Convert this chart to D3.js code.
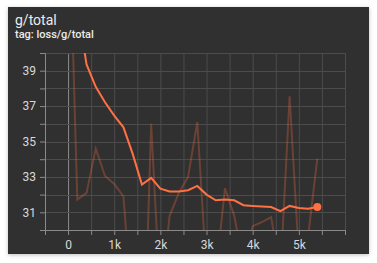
<!DOCTYPE html>
<meta charset="utf-8">
<style>

body {
  margin: 0;
  background: #fff;
  font-family: Roboto, sans-serif;
}

.card {
  position: absolute;
  left: 8px;
  top: 7px;
  width: 361px;
  height: 247px;
  background: #303030;
  box-shadow: 0 1px 4px rgba(0,0,0,0.25);
}

.grid line {
  stroke: #4c4c4c;
  stroke-width: 1;
}

.axis path, .axis line {
  stroke: #8a8a8a;
}

.axis text {
  fill: #d8d8d8;
  font: 12px Roboto, sans-serif;
}

.raw {
  fill: none;
  stroke: #ff7043;
  stroke-opacity: 0.28;
  stroke-width: 2;
}

.smooth {
  fill: none;
  stroke: #ff7043;
  stroke-width: 2;
}

</style>
<body>
<div class="card"></div>
<script src="https://d3js.org/d3.v7.min.js"></script>
<script>

var steps = [0, 200, 400, 600, 800, 1000, 1200, 1400, 1600, 1800, 2000, 2200, 2400, 2600,
             2800, 3000, 3200, 3400, 3600, 3800, 4000, 4200, 4400, 4600, 4800, 5000, 5200, 5400];

var rawValues = [50, 31.72, 32.1, 34.6, 33.05, 32.6, 31.9, 25, 19, 36.0, 26, 30.8, 32.1, 33.0,
                 36.1, 27.5, 27.5, 32.36, 30.8, 28.1, 30.22, 30.45, 30.73, 27.5, 37.56, 28.5, 29.6, 34.04];

var smoothValues = [50, 42.7, 39.35, 38.09, 37.22, 36.46, 35.8, 34.3, 32.57, 32.94, 32.34, 32.18, 32.17, 32.25,
                    32.49, 32.0, 31.68, 31.72, 31.68, 31.4, 31.36, 31.33, 31.3, 31.06, 31.36, 31.24, 31.2, 31.3];

var xTicks = [0, 1000, 2000, 3000, 4000, 5000];
var xTickLabels = ["0", "1k", "2k", "3k", "4k", "5k"];
var yTicks = [31, 33, 35, 37, 39];

var data = steps.map(function(s, i) {
  return {step: s, raw: rawValues[i], smooth: smoothValues[i]};
});

var margin = {top: 53, right: 32, bottom: 33, left: 45},
    width = 377 - margin.left - margin.right,
    height = 263 - margin.top - margin.bottom;

var root = d3.select("body").append("svg")
    .attr("width", 377)
    .attr("height", 263)
    .style("position", "absolute")
    .style("left", 0)
    .style("top", 0);

root.append("text")
    .attr("x", 15)
    .attr("y", 25)
    .attr("fill", "#ececec")
    .style("font", "14px Roboto, sans-serif")
    .text("g/total");

root.append("text")
    .attr("x", 15)
    .attr("y", 38)
    .attr("fill", "#ececec")
    .style("font", "500 11px Roboto, sans-serif")
    .text("tag: loss/g/total");

var svg = root.append("g")
    .attr("transform", "translate(" + margin.left + "," + margin.top + ")");

var x = d3.scaleLinear()
    .domain([-500, 6000])
    .range([0, width]);

var y = d3.scaleLinear()
    .domain([30, 40])
    .range([height, 0]);

svg.append("defs").append("clipPath")
    .attr("id", "clip")
  .append("rect")
    .attr("width", width)
    .attr("height", height);

// grid
svg.append("g")
    .attr("class", "grid")
  .selectAll("line.v")
    .data(d3.range(0, 6001, 500))
  .enter().append("line")
    .attr("x1", function(d) { return x(d) + 0.5; })
    .attr("x2", function(d) { return x(d) + 0.5; })
    .attr("y1", 0)
    .attr("y2", height)
    .style("stroke", function(d) { return d === 0 ? "#8a8a8a" : null; });

svg.append("g")
    .attr("class", "grid")
  .selectAll("line.h")
    .data(d3.range(31, 40.1, 1))
  .enter().append("line")
    .attr("x1", 0)
    .attr("x2", width)
    .attr("y1", function(d) { return Math.round(y(d)) + 0.5; })
    .attr("y2", function(d) { return Math.round(y(d)) + 0.5; });

// axes
var xAxis = svg.append("g")
    .attr("class", "x axis")
    .attr("transform", "translate(0," + height + ")")
    .call(d3.axisBottom(x)
      .tickValues(d3.range(-500, 6001, 500))
      .tickSizeOuter(0)
      .tickSize(5)
      .tickPadding(5)
      .tickFormat(function(d) {
        var i = xTicks.indexOf(d);
        return i < 0 ? "" : xTickLabels[i];
      }));

var yAxis = svg.append("g")
    .attr("class", "y axis")
    .call(d3.axisLeft(y)
      .tickValues(d3.range(30, 40.1, 1))
      .tickSizeOuter(0)
      .tickSize(5)
      .tickPadding(4)
      .tickFormat(function(d) { return yTicks.indexOf(d) < 0 ? "" : d; }));

var line = function(key) {
  return d3.line()
    .x(function(d) { return x(d.step); })
    .y(function(d) { return y(d[key]); });
};

var plot = svg.append("g")
    .attr("clip-path", "url(#clip)");

plot.append("path")
    .datum(data)
    .attr("class", "raw")
    .attr("d", line("raw"));

plot.append("path")
    .datum(data)
    .attr("class", "smooth")
    .attr("d", line("smooth"));

var last = data[data.length - 1];
svg.append("circle")
    .attr("cx", x(last.step))
    .attr("cy", y(last.smooth))
    .attr("r", 4)
    .attr("fill", "#ff7043");

</script>
